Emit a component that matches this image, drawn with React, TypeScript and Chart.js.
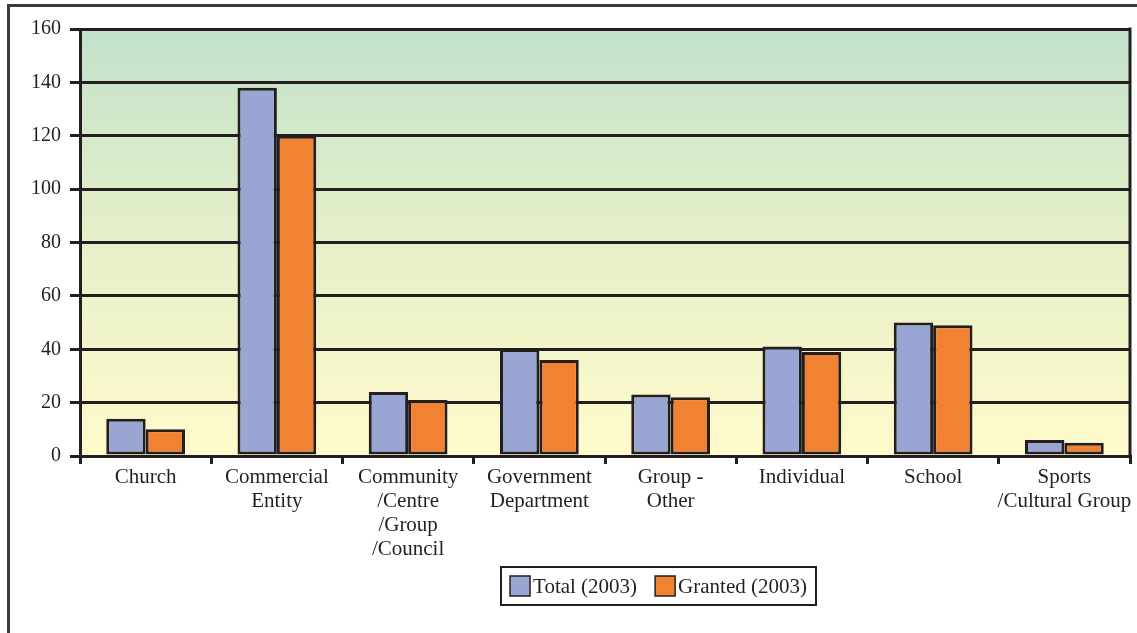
import React, { useEffect, useRef } from 'react';
import { Chart, registerables } from 'chart.js';

Chart.register(...registerables);

const categories: (string | string[])[] = [
  'Church',
  ['Commercial', 'Entity'],
  ['Community', '/Centre', '/Group', '/Council'],
  ['Government', 'Department'],
  ['Group -', 'Other'],
  'Individual',
  'School',
  ['Sports', '/Cultural Group'],
];
const totalValues = [14, 138, 24, 40, 23, 41, 50, 6];
const grantedValues = [10, 120, 21, 36, 22, 39, 49, 5];
const seriesLabels = ['Total (2003)', 'Granted (2003)'];
const yMin = 0;
const yMax = 160;
const yStep = 20;

const INK = '#231f20';
const FONT = '"Liberation Serif", "Times New Roman", serif';

const bgPlugin = {
  id: 'bgGradient',
  beforeDraw(chart: any) {
    const { ctx, chartArea } = chart;
    if (!chartArea) return;
    const { left, top, right, bottom } = chartArea;
    const g = ctx.createLinearGradient(0, top, 0, bottom);
    g.addColorStop(0, '#c2e1cb');
    g.addColorStop(0.5, '#e6f0c8');
    g.addColorStop(1, '#fffacc');
    ctx.save();
    ctx.fillStyle = g;
    ctx.fillRect(left, top, right - left, bottom - top);
    ctx.restore();
  },
};

const framePlugin = {
  id: 'rightFrame',
  afterDatasetsDraw(chart: any) {
    const { ctx, chartArea } = chart;
    ctx.save();
    ctx.strokeStyle = INK;
    ctx.lineWidth = 3;
    ctx.beginPath();
    ctx.moveTo(chartArea.right, chartArea.top - 1.5);
    ctx.lineTo(chartArea.right, chartArea.bottom);
    ctx.stroke();
    ctx.restore();
  },
};

const legendPlugin = {
  id: 'boxLegend',
  afterDraw(chart: any) {
    const { ctx } = chart;
    const datasets = chart.data.datasets;
    ctx.save();
    ctx.font = `21px ${FONT}`;
    ctx.textBaseline = 'middle';
    const sw = 20;
    const gapText = 3;
    const gapItem = 18;
    const pad = 9;
    const widths = datasets.map((d: any) => ctx.measureText(d.label).width);
    let content = 0;
    widths.forEach((w: number, i: number) => {
      content += sw + gapText + w + (i < widths.length - 1 ? gapItem : 0);
    });
    const boxW = content + pad * 2;
    const boxH = 38;
    const cx = 658.5;
    const cy = 586;
    const bx = cx - boxW / 2;
    const by = cy - boxH / 2;
    ctx.fillStyle = '#ffffff';
    ctx.fillRect(bx, by, boxW, boxH);
    ctx.strokeStyle = INK;
    ctx.lineWidth = 2;
    ctx.strokeRect(bx, by, boxW, boxH);
    let x = bx + pad;
    datasets.forEach((d: any, i: number) => {
      ctx.fillStyle = d.backgroundColor;
      ctx.fillRect(x, cy - sw / 2, sw, sw);
      ctx.lineWidth = 1.5;
      ctx.strokeStyle = INK;
      ctx.strokeRect(x, cy - sw / 2, sw, sw);
      ctx.fillStyle = INK;
      ctx.fillText(d.label, x + sw + gapText, cy + 1);
      x += sw + gapText + widths[i] + gapItem;
    });
    ctx.restore();
  },
};

export default function App() {
  const ref = useRef<HTMLCanvasElement | null>(null);

  useEffect(() => {
    if (!ref.current) return;
    const chart = new Chart(ref.current, {
      type: 'bar',
      data: {
        labels: categories as any,
        datasets: [
          {
            label: seriesLabels[0],
            data: totalValues,
            backgroundColor: '#99a5d3',
            borderColor: INK,
            borderWidth: 3,
            borderSkipped: false,
            categoryPercentage: 0.6,
            barPercentage: 1,
          },
          {
            label: seriesLabels[1],
            data: grantedValues,
            backgroundColor: '#f08232',
            borderColor: INK,
            borderWidth: 3,
            borderSkipped: false,
            categoryPercentage: 0.6,
            barPercentage: 1,
          },
        ],
      },
      options: {
        responsive: false,
        devicePixelRatio: 1,
        animation: false,
        layout: { padding: { left: 0, right: 7, top: 29, bottom: 77 } },
        plugins: {
          legend: { display: false },
          tooltip: { enabled: false },
        },
        scales: {
          x: {
            offset: true,
            grid: {
              display: true,
              offset: true,
              drawOnChartArea: false,
              drawTicks: true,
              tickLength: 8,
              color: INK,
              lineWidth: 3,
            },
            border: { display: true, color: INK, width: 3 },
            ticks: {
              color: INK,
              font: { family: FONT, size: 21, lineHeight: 1.15 },
              maxRotation: 0,
              minRotation: 0,
              autoSkip: false,
              padding: 1,
            },
            afterFit(scale: any) {
              scale.height = 100;
            },
          },
          y: {
            min: yMin,
            max: yMax,
            ticks: {
              stepSize: yStep,
              color: INK,
              font: { family: FONT, size: 20 },
              padding: 9,
            },
            grid: {
              color: INK,
              lineWidth: 3,
              tickLength: 10,
            },
            border: { display: true, color: INK, width: 3 },
            afterFit(scale: any) {
              scale.width = 80;
            },
          },
        },
      },
      plugins: [bgPlugin, framePlugin, legendPlugin],
    });
    return () => chart.destroy();
  }, []);

  return (
    <div style={{ position: 'absolute', left: 0, top: 0, width: 1137, height: 633, overflow: 'hidden', background: '#fff' }}>
      <div
        style={{
          position: 'absolute',
          left: 7,
          top: 4,
          width: 1200,
          height: 700,
          borderTop: '3px solid #3a3a3a',
          borderLeft: '3px solid #3a3a3a',
        }}
      />
      <canvas ref={ref} width={1137} height={633} style={{ position: 'absolute', left: 0, top: 0 }} />
    </div>
  );
}
